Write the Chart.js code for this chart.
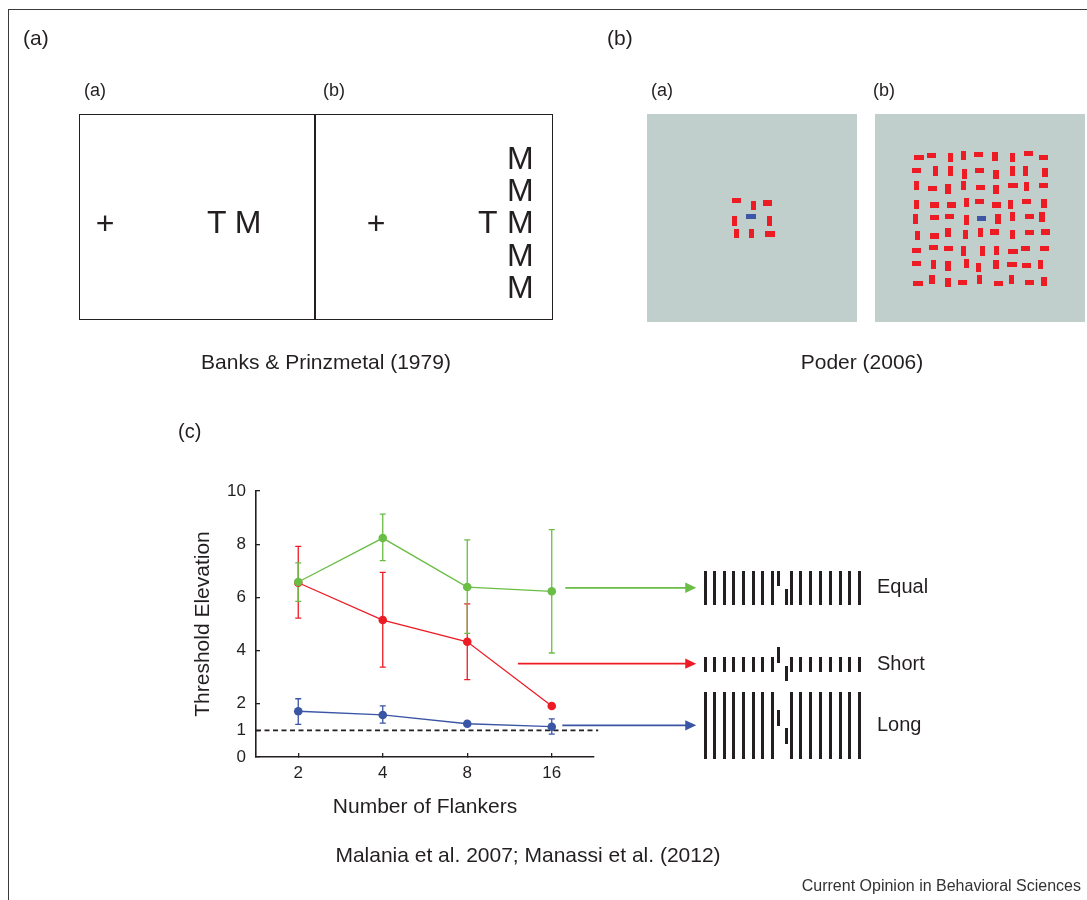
<!DOCTYPE html>
<html><head><meta charset="utf-8">
<script src="https://cdn.jsdelivr.net/npm/chart.js@4.4.1/dist/chart.umd.min.js"></script>
<style>
html,body{margin:0;padding:0;background:#fff;overflow:hidden;width:1087px;height:900px;}
body{position:relative;font-family:"Liberation Sans",Arial,Helvetica,sans-serif;color:#231f20;}
.t{position:absolute;white-space:nowrap;line-height:1;}
.frame{position:absolute;left:8px;top:9px;width:1200px;height:1000px;border-left:1.8px solid #3a3a3a;border-top:1.8px solid #3a3a3a;}
.box{position:absolute;left:79px;top:114px;width:472px;height:204px;border:1.5px solid #231f20;}
.div{position:absolute;left:314px;top:114px;width:1.5px;height:206px;background:#231f20;}
.sq{position:absolute;top:114px;width:210px;height:208px;background:#c0cecc;}
.el{position:absolute;background:#ed1c24;}
.bar{position:absolute;background:#231f20;width:3px;}
#chartCanvas{position:absolute;left:0;top:0;}
</style></head><body>
<div class="frame"></div>
<div class="box"></div><div class="div"></div>
<div class="sq" style="left:647px"></div>
<div class="sq" style="left:875px"></div>
<canvas id="chartCanvas" width="1087" height="900"></canvas>
<script>
// ---------------- chart data ----------------
const flankers = ['2', '4', '8', '16'];
const yTickValues = [0, 1, 2, 4, 6, 8, 10];
const equalMean = [6.58, 8.23, 6.39, 6.23];
const equalLow  = [5.85, 7.38, 4.65, 3.91];
const equalHigh = [7.30, 9.13, 8.16, 8.55];
const shortMean = [6.55, 5.15, 4.33, 1.92];
const shortLow  = [5.22, 3.38, 2.91, null];
const shortHigh = [7.92, 6.94, 5.76, null];
const longMean  = [1.72, 1.58, 1.25, 1.14];
const longLow   = [1.23, 1.27, 1.18, 0.86];
const longHigh  = [2.19, 1.92, 1.32, 1.43];
const referenceLevel = 1;
const arrowLevels = [6.36, 3.51, 1.19];   // Equal, Short, Long
const arrowStarts = [3.16, 2.60, 3.125];  // in category-index units
const arrowEnd = 4.71;
const dashEnd = 3.55;
const seriesNames = ['Equal', 'Short', 'Long'];

const GREEN = '#6abd45', RED = '#ed1c24', BLUE = '#3a55a4', INK = '#231f20';
const FONT = '"Liberation Sans", Arial, Helvetica, sans-serif';
const colors = [GREEN, RED, BLUE];
const errLow = [equalLow, shortLow, longLow];
const errHigh = [equalHigh, shortHigh, longHigh];

const extras = {
  id: 'extras',
  beforeDatasetsDraw(chart) {
    const {ctx, chartArea, scales: {x, y}} = chart;
    ctx.save();
    ctx.strokeStyle = INK; ctx.lineWidth = 1.6; ctx.setLineDash([5, 3.5]);
    const yy = y.getPixelForValue(referenceLevel);
    ctx.beginPath(); ctx.moveTo(chartArea.left, yy); ctx.lineTo(x.getPixelForValue(dashEnd), yy); ctx.stroke();
    ctx.restore();
    for (let s = colors.length - 1; s >= 0; s--) {
      ctx.save();
      ctx.strokeStyle = colors[s]; ctx.lineWidth = 1.3;
      errLow[s].forEach((lo, i) => {
        const hi = errHigh[s][i];
        if (lo == null || hi == null) return;
        const px = x.getPixelForValue(i), p1 = y.getPixelForValue(lo), p2 = y.getPixelForValue(hi);
        ctx.beginPath();
        ctx.moveTo(px, p1); ctx.lineTo(px, p2);
        ctx.moveTo(px - 3, p1); ctx.lineTo(px + 3, p1);
        ctx.moveTo(px - 3, p2); ctx.lineTo(px + 3, p2);
        ctx.stroke();
      });
      ctx.restore();
    }
  },
  afterDraw(chart) {
    const {ctx, scales: {x, y}} = chart;
    arrowLevels.forEach((lvl, k) => {
      const py = y.getPixelForValue(lvl);
      const x0 = x.getPixelForValue(arrowStarts[k]);
      const x1 = x.getPixelForValue(arrowEnd);
      ctx.save();
      ctx.strokeStyle = colors[k]; ctx.fillStyle = colors[k]; ctx.lineWidth = 1.7;
      ctx.beginPath(); ctx.moveTo(x0, py); ctx.lineTo(x1 - 10, py); ctx.stroke();
      ctx.beginPath(); ctx.moveTo(x1, py); ctx.lineTo(x1 - 11, py - 5.2); ctx.lineTo(x1 - 11, py + 5.2); ctx.closePath(); ctx.fill();
      ctx.restore();
    });
  }
};

function ds(label, data, color) {
  return {label, data, borderColor: color, backgroundColor: color, borderWidth: 1.3,
    pointRadius: 4.3, pointHoverRadius: 4.3, pointBorderWidth: 0, pointBackgroundColor: color, tension: 0};
}

new Chart(document.getElementById('chartCanvas'), {
  type: 'line',
  data: {
    labels: flankers,
    datasets: [ds(seriesNames[0], equalMean, GREEN), ds(seriesNames[1], shortMean, RED), ds(seriesNames[2], longMean, BLUE)]
  },
  options: {
    responsive: false, devicePixelRatio: 1, animation: false,
    layout: {padding: {left: 186, top: 491, right: 493, bottom: 81}},
    plugins: {legend: {display: false}, tooltip: {enabled: false}},
    scales: {
      x: {
        type: 'category', offset: true,
        afterFit: s => { s.height = 62; },
        ticks: {font: {size: 17, family: FONT}, color: INK, padding: 10, autoSkip: false, maxRotation: 0},
        grid: {display: true, drawOnChartArea: false, drawTicks: true, tickLength: -4, color: INK, lineWidth: 1.3},
        border: {display: true, color: INK, width: 1.6},
        title: {display: true, text: 'Number of Flankers', font: {size: 21, family: FONT}, color: INK, padding: {top: 0, bottom: -1}}
      },
      y: {
        type: 'linear', min: 0, max: 10,
        afterBuildTicks: s => { s.ticks = yTickValues.map(v => ({value: v})); },
        afterFit: s => { s.width = 70; },
        ticks: {font: {size: 17, family: FONT}, color: INK, padding: 14, autoSkip: false},
        grid: {display: true, drawOnChartArea: false, drawTicks: true, tickLength: -4, color: INK, lineWidth: 1.3},
        border: {display: true, color: INK, width: 1.6},
        title: {display: true, text: 'Threshold Elevation', font: {size: 21, family: FONT}, color: INK, padding: {top: 4.4, bottom: 0}}
      }
    }
  },
  plugins: [extras]
});

// ---------------- illustrations & labels ----------------
function txt(s, x, y, size, align, color) {
  const d = document.createElement('div');
  d.className = 't'; d.textContent = s;
  d.style.left = x + 'px'; d.style.top = y + 'px'; d.style.fontSize = size + 'px';
  if (color) d.style.color = color;
  const tx = align === 'center' ? '-50%' : align === 'right' ? '-100%' : '0';
  d.style.transform = 'translate(' + tx + ',-50%)';
  document.body.appendChild(d);
}
txt('(a)', 23, 37, 21); txt('(b)', 607, 37, 21);
txt('(a)', 84, 90, 18); txt('(b)', 323, 90, 18);
txt('(a)', 651, 90, 18); txt('(b)', 873, 90, 18);
txt('+', 105, 223, 32, 'center'); txt('T M', 207, 222, 32);
txt('+', 376, 223, 32, 'center'); txt('T', 478, 222, 32);
[158, 190, 222, 255, 287].forEach(y => txt('M', 507, y, 32));
txt('Banks & Prinzmetal (1979)', 326, 361, 21, 'center');
txt('Poder (2006)', 862, 361, 21, 'center');
txt('(c)', 178, 431, 20);
txt('Equal', 877, 586, 20); txt('Short', 877, 663, 20); txt('Long', 877, 724, 20);
txt('Malania et al. 2007; Manassi et al. (2012)', 528, 854, 21, 'center');
txt('Current Opinion in Behavioral Sciences', 1081, 886, 16, 'right', '#333');

// Poder stimuli (zoomed-image coordinates of element centres)
const smallSet = [[289,302,'h'],[341,316,'v'],[383,309,'h'],[333,349,'b'],[284,363,'v'],[388,363,'v'],[290,401,'v'],[335,401,'v'],[390,402,'h']];
const bigSet = [
 [837,173,'h'],[875,167,'h'],[932,172,'v'],[970,166,'v'],[1016,163,'h'],[1065,169,'v'],[1118,172,'v'],[1166,161,'h'],[1211,173,'h'],
 [830,212,'h'],[886,213,'v'],[932,213,'v'],[974,222,'v'],[1019,212,'h'],[1068,223,'v'],[1118,213,'v'],[1156,213,'v'],[1215,217,'v'],
 [829,257,'v'],[878,265,'h'],[924,267,'v'],[970,257,'v'],[1022,262,'h'],[1068,269,'v'],[1119,256,'h'],[1159,260,'v'],[1210,256,'h'],
 [829,313,'v'],[884,315,'h'],[934,315,'h'],[980,307,'v'],[1019,305,'h'],[1069,315,'h'],[1112,313,'v'],[1160,305,'h'],[1212,310,'v'],
 [826,357,'v'],[884,352,'h'],[928,349,'h'],[980,360,'v'],[1025,355,'b'],[1074,357,'v'],[1118,350,'v'],[1169,350,'h'],[1206,351,'v'],
 [833,406,'v'],[884,408,'h'],[924,398,'v'],[977,403,'v'],[1021,397,'v'],[1063,396,'h'],[1118,404,'v'],[1169,397,'h'],[1216,396,'h'],
 [830,452,'h'],[880,442,'h'],[926,446,'h'],[970,453,'v'],[1027,453,'v'],[1070,451,'v'],[1119,455,'h'],[1157,446,'h'],[1213,446,'h'],
 [830,490,'h'],[880,494,'v'],[924,498,'v'],[980,491,'v'],[1015,503,'v'],[1068,494,'v'],[1116,493,'h'],[1159,496,'h'],[1202,494,'v'],
 [834,550,'h'],[876,539,'v'],[924,547,'v'],[968,547,'h'],[1018,539,'v'],[1075,550,'h'],[1114,539,'v'],[1169,547,'h'],[1212,545,'v']];
[...smallSet, ...bigSet].forEach(([zx, zy, o]) => {
  const cx = 640 + zx / 3, cy = 100 + zy / 3;
  const w = o === 'v' ? 5.5 : 9.5, h = o === 'v' ? 9.5 : 5.5;
  const d = document.createElement('div'); d.className = 'el';
  d.style.left = (cx - w / 2) + 'px'; d.style.top = (cy - h / 2) + 'px';
  d.style.width = w + 'px'; d.style.height = h + 'px';
  if (o === 'b') d.style.background = '#3d56a6';
  document.body.appendChild(d);
});

// vernier gratings
const gratingRows = [
  {top: 571, bottom: 605, up: [571, 586], down: [589, 605]},
  {top: 657, bottom: 672, up: [647, 663], down: [666, 681]},
  {top: 692, bottom: 759, up: [710, 726], down: [728, 744]}
];
function bar(x, y0, y1) {
  const d = document.createElement('div'); d.className = 'bar';
  d.style.left = x + 'px'; d.style.top = y0 + 'px'; d.style.height = (y1 - y0) + 'px';
  document.body.appendChild(d);
}
gratingRows.forEach(r => {
  for (let k = 0; k < 8; k++) { bar(703.5 + 9.6 * k, r.top, r.bottom); bar(789.5 + 9.8 * k, r.top, r.bottom); }
  bar(776.5, r.up[0], r.up[1]); bar(784.5, r.down[0], r.down[1]);
});
</script>
</body></html>
